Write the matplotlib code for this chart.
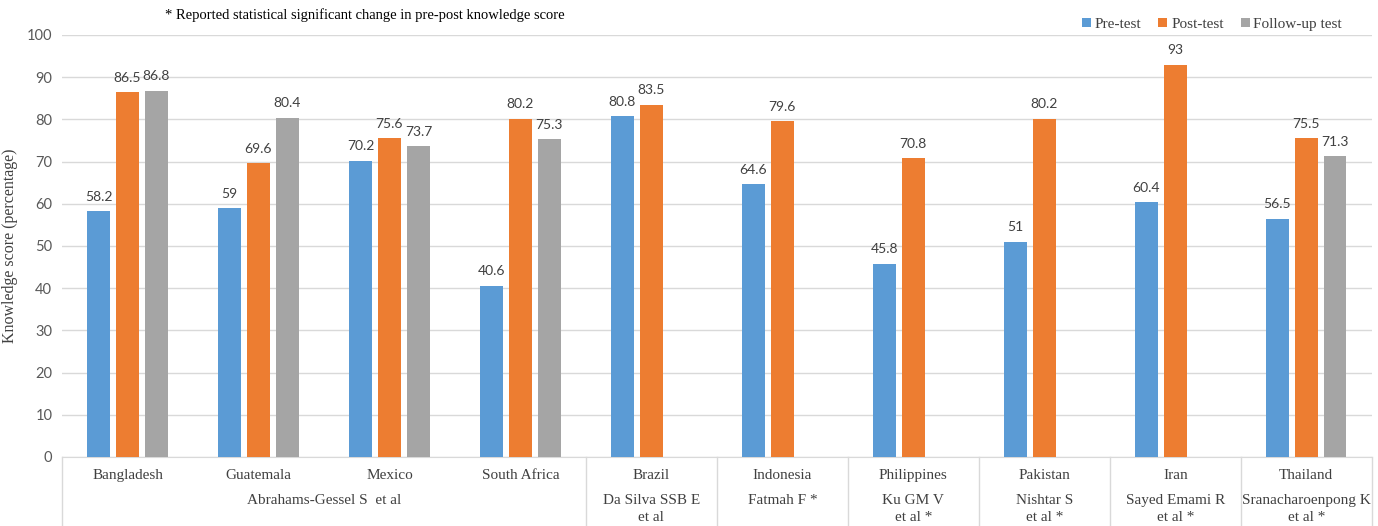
import numpy as np
import matplotlib
matplotlib.use('Agg')
import matplotlib.pyplot as plt
from matplotlib.lines import Line2D

# data
countries = ['Bangladesh', 'Guatemala', 'Mexico', 'South Africa', 'Brazil',
             'Indonesia', 'Philippines', 'Pakistan', 'Iran', 'Thailand']
pre_test = [58.2, 59, 70.2, 40.6, 80.8, 64.6, 45.8, 51, 60.4, 56.5]
post_test = [86.5, 69.6, 75.6, 80.2, 83.5, 79.6, 70.8, 80.2, 93, 75.5]
follow_up = [86.8, 80.4, 73.7, 75.3, None, None, None, None, None, 71.3]

# study groups: label lines, first and last country index
studies = [['Abrahams-Gessel S  et al'], ['Da Silva SSB E', 'et al'], ['Fatmah F *'],
           ['Ku GM V', 'et al *'], ['Nishtar S', 'et al *'], ['Sayed Emami R', 'et al *'],
           ['Sranacharoenpong K', 'et al *']]
study_start = [0, 4, 5, 6, 7, 8, 9]
study_end = [3, 4, 5, 6, 7, 8, 9]

series_names = ['Pre-test', 'Post-test', 'Follow-up test']
colors = ['#5B9BD5', '#ED7D31', '#A5A5A5']

serif = 'Liberation Serif'
sans = 'Lato'

fig = plt.figure(figsize=(13.78, 5.26), dpi=100)
ax = fig.add_axes([0.045, 0.1312, 0.9505, 0.8023])

x = np.arange(len(countries))
offset = 0.221
width = 0.171
all_series = [pre_test, post_test, follow_up]
for k, vals in enumerate(all_series):
    v = np.array([np.nan if a is None else a for a in vals], dtype=float)
    ax.bar(x + (k - 1) * offset, v, width, color=colors[k],
           label=series_names[k], zorder=3)
    for xi, val in zip(x + (k - 1) * offset, v):
        if np.isnan(val):
            continue
        ax.annotate('%g' % val, (xi, val), xytext=(0, 6), textcoords='offset points',
                    ha='center', va='bottom', fontsize=10, family=sans,
                    color='#404040')

ax.set_xlim(-0.5, len(countries) - 0.5)
ax.set_ylim(0, 100)
ax.set_yticks(np.arange(0, 101, 10))
ax.yaxis.grid(True, color='#D9D9D9', linewidth=1, zorder=0)
ax.set_axisbelow(True)
for s in ['top', 'right', 'left']:
    ax.spines[s].set_visible(False)
ax.spines['bottom'].set_color('#D9D9D9')
ax.tick_params(axis='y', length=0, pad=7, labelsize=10.5, labelcolor='#595959')
for t in ax.get_yticklabels():
    t.set_family(sans)
ax.set_xticks([])
ax.set_ylabel('Knowledge score (percentage)', family=serif, fontsize=11.5,
              color='#404040')
ax.yaxis.set_label_coords(-0.0336, 0.5)

# multi-level x axis
tr = ax.get_xaxis_transform()
for i, c in enumerate(countries):
    ax.text(i, -0.043, c, transform=tr, ha='center', va='center',
            family=serif, fontsize=11, color='#404040')
line_y = [-0.102, -0.1445]
for lines, a, b in zip(studies, study_start, study_end):
    for j, lab in enumerate(lines):
        ax.text((a + b) / 2, line_y[j], lab, transform=tr, ha='center', va='center',
                family=serif, fontsize=11, color='#404040')
bounds = [-0.5] + [e + 0.5 for e in study_end]
for bx in bounds:
    ax.add_line(Line2D([bx, bx], [0, -0.17], transform=tr, color='#D9D9D9',
                       linewidth=1, clip_on=False))

ax.legend(loc='lower right', bbox_to_anchor=(0.982, 0.995), ncol=3,
          frameon=False, handlelength=0.6, handleheight=0.6,
          handletextpad=0.25, columnspacing=1.1, borderaxespad=0,
          prop={'family': serif, 'size': 11}, labelcolor='#404040')

fig.text(0.12, 0.972, '* Reported statistical significant change in pre-post knowledge score',
         family=serif, fontsize=10.5, color='black', va='center', ha='left')

fig.savefig('out.png', dpi=100)
